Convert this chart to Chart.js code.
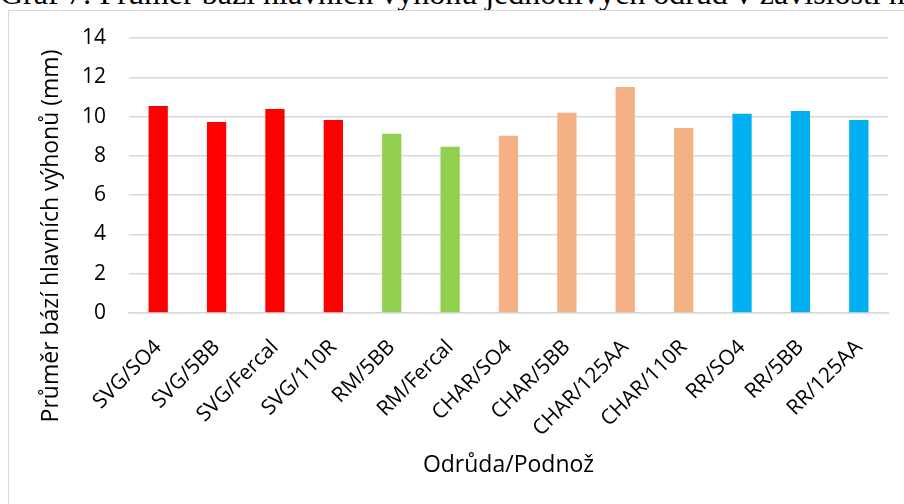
<!DOCTYPE html>
<html lang="cs">
<head>
<meta charset="UTF-8">
<title>Graf 7</title>
<script src="https://cdn.jsdelivr.net/npm/chart.js"></script>
<style>
  body { margin: 0; background: #fff; overflow: hidden; }
  #wrap { position: relative; width: 904px; height: 504px; overflow: hidden; }
  #caption {
    position: absolute; left: 0; top: -23px; white-space: nowrap;
    font-family: "Liberation Serif", "DejaVu Serif", serif; font-size: 32px; line-height: 32px; color: #000;
  }
  #frame { position: absolute; left: 8px; top: 10px; width: 920px; height: 520px; border: 1px solid #d9d9d9; }
  #chart { position: absolute; left: 0; top: 0; }
</style>
</head>
<body>
<div id="wrap">
  <div id="caption">Graf 7: Průměr bází hlavních výhonů jednotlivých odrůd v závislosti na podnoži</div>
  <div id="frame"></div>
  <canvas id="chart" width="904" height="504"></canvas>
</div>
<script>
// data
var categories = ['SVG/SO4', 'SVG/5BB', 'SVG/Fercal', 'SVG/110R', 'RM/5BB', 'RM/Fercal',
                  'CHAR/SO4', 'CHAR/5BB', 'CHAR/125AA', 'CHAR/110R', 'RR/SO4', 'RR/5BB', 'RR/125AA'];
var values = [10.54, 9.73, 10.39, 9.83, 9.12, 8.46, 9.02, 10.19, 11.51, 9.42, 10.14, 10.29, 9.83];
var barColors = ['#FF0000', '#FF0000', '#FF0000', '#FF0000', '#92D050', '#92D050',
                 '#F4B183', '#F4B183', '#F4B183', '#F4B183', '#00B0F0', '#00B0F0', '#00B0F0'];
var yTicks = [0, 2, 4, 6, 8, 10, 12, 14];
var yTitle = 'Průměr bází hlavních výhonů (mm)';
var xTitle = 'Odrůda/Podnož';

var fontFamily = '"Open Sans", Lato, sans-serif';

// axis titles drawn where the original places them
var axisTitles = {
    id: 'axisTitles',
    afterDraw: function(chart) {
        var ctx = chart.ctx;
        ctx.save();
        ctx.fillStyle = '#000';
        ctx.font = '23px ' + fontFamily;
        ctx.textAlign = 'center';
        ctx.textBaseline = 'middle';
        ctx.fillText(xTitle, (chart.chartArea.left + chart.chartArea.right) / 2, 465);
        ctx.translate(51, 236);
        ctx.rotate(-Math.PI / 2);
        ctx.fillText(yTitle, 0, 0);
        ctx.restore();
    }
};

new Chart(document.getElementById('chart'), {
    type: 'bar',
    data: {
        labels: categories,
        datasets: [{
            data: values,
            backgroundColor: barColors,
            borderWidth: 0,
            categoryPercentage: 1,
            barPercentage: 0.33
        }]
    },
    options: {
        responsive: false,
        animation: false,
        devicePixelRatio: 1,
        layout: { padding: { left: 0, right: 16, top: 38, bottom: 0 } },
        plugins: { legend: { display: false }, tooltip: { enabled: false } },
        scales: {
            x: {
                grid: { display: false, drawTicks: false },
                border: { display: true, color: '#d9d9d9', width: 1.5 },
                ticks: {
                    color: '#000', font: { family: fontFamily, size: 21 },
                    minRotation: 45, maxRotation: 45, padding: 22, autoSkip: false
                },
                afterFit: function(s) { s.height = 504 - 313; }
            },
            y: {
                min: 0, max: 14,
                afterBuildTicks: function(s) { s.ticks = yTicks.map(function(v) { return { value: v }; }); },
                grid: { color: '#d9d9d9', lineWidth: 1.5, drawTicks: false },
                border: { display: false },
                ticks: { color: '#000', font: { family: fontFamily, size: 21 }, padding: 23 },
                afterFit: function(s) { s.width = 129; }
            }
        }
    },
    plugins: [axisTitles]
});
</script>
</body>
</html>
